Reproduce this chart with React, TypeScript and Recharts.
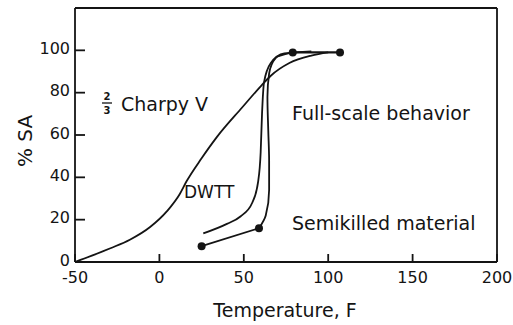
import * as React from 'react';
import { ComposedChart, Line, Scatter, XAxis, YAxis, ReferenceLine } from 'recharts';

// temperature (F) vs % shear area
const charpyV = [
  { x: -50, y: 0 }, { x: -40, y: 3 }, { x: -29, y: 6.5 }, { x: -17.5, y: 10.5 },
  { x: -5.5, y: 16.5 }, { x: 4.5, y: 24 }, { x: 12, y: 32 }, { x: 16, y: 38 },
  { x: 25, y: 49 }, { x: 34, y: 59 }, { x: 49, y: 73 }, { x: 60, y: 83 },
  { x: 66, y: 88 }, { x: 77, y: 94 }, { x: 90, y: 97.5 }, { x: 100, y: 99 },
];
const dwtt = [
  { x: 26, y: 13.5 }, { x: 40, y: 18 }, { x: 48, y: 21.5 }, { x: 55, y: 28 },
  { x: 58.5, y: 38 }, { x: 60, y: 52 }, { x: 60.8, y: 70 }, { x: 62, y: 85 },
  { x: 66, y: 94 }, { x: 74, y: 98.5 }, { x: 90, y: 99.5 },
];
const semiLow = [{ x: 25, y: 7.5 }, { x: 59, y: 16 }];
const semiRise = [
  { x: 59, y: 16 }, { x: 63, y: 22 }, { x: 65, y: 34 }, { x: 65, y: 48 },
  { x: 64.5, y: 62 }, { x: 64, y: 78 }, { x: 65, y: 89 }, { x: 69, y: 96.5 }, { x: 79, y: 99 },
];
const semiTop = [{ x: 79, y: 99 }, { x: 107, y: 99 }];
const semiDots = [{ x: 25, y: 7.5 }, { x: 59, y: 16 }, { x: 79, y: 99 }, { x: 107, y: 99 }];

const xTicks = [-50, 0, 50, 100, 150, 200];
const yTicks = [0, 20, 40, 60, 80, 100];

const ink = '#141414';
const font = 'DejaVu Sans';
const sw = 1.8;

const XTick = (props: any) => {
  const { x, y, payload } = props;
  return (
    <g>
      <line x1={x} x2={x} y1={y} y2={y - 8} stroke={ink} strokeWidth={sw} />
      <text x={x} y={y + 21} textAnchor="middle" fontSize={16} fontFamily={font} fill={ink}>{payload.value}</text>
    </g>
  );
};

const YTick = (props: any) => {
  const { x, y, payload } = props;
  return (
    <g>
      <line x1={x} x2={x + 10} y1={y} y2={y} stroke={ink} strokeWidth={sw} />
      <text x={x - 5} y={y - 2} dy="0.36em" textAnchor="end" fontSize={16} fontFamily={font} fill={ink}>{payload.value}</text>
    </g>
  );
};

const dotShape = (p: any) => <circle cx={p.cx} cy={p.cy} r={4} fill={ink} />;

export default function App() {
  return (
    <div style={{ position: 'absolute', left: 0, top: 0, width: 513, height: 325, background: '#fff' }}>
      <ComposedChart width={513} height={325} margin={{ top: 8, right: 16, bottom: 0, left: 0 }}>
        <XAxis
          type="number" dataKey="x" domain={[-50, 200]} ticks={xTicks} allowDataOverflow
          height={63} tickSize={0} tickMargin={0} tickLine={false}
          axisLine={{ stroke: ink, strokeWidth: sw }} tick={<XTick />}
        />
        <YAxis
          type="number" dataKey="y" domain={[0, 120]} ticks={yTicks} allowDataOverflow
          width={75} tickSize={0} tickMargin={0} tickLine={false}
          axisLine={{ stroke: ink, strokeWidth: sw }} tick={<YTick />}
        />
        <ReferenceLine y={120} stroke={ink} strokeWidth={sw} />
        <ReferenceLine x={200} stroke={ink} strokeWidth={sw} />
        <Line data={charpyV} dataKey="y" type="monotone" stroke={ink} strokeWidth={sw} dot={false} activeDot={false} isAnimationActive={false} />
        <Line data={dwtt} dataKey="y" type="monotone" stroke={ink} strokeWidth={sw} dot={false} activeDot={false} isAnimationActive={false} />
        <Line data={semiLow} dataKey="y" type="linear" stroke={ink} strokeWidth={sw} dot={false} activeDot={false} isAnimationActive={false} />
        <Line data={semiRise} dataKey="y" type="monotoneY" stroke={ink} strokeWidth={sw} dot={false} activeDot={false} isAnimationActive={false} />
        <Line data={semiTop} dataKey="y" type="linear" stroke={ink} strokeWidth={2.2} dot={false} activeDot={false} isAnimationActive={false} />
        <Scatter data={semiDots} dataKey="y" shape={dotShape} isAnimationActive={false} />

        <text x={25} y={141} transform="rotate(-90 25 141)" textAnchor="middle" dominantBaseline="central" fontSize={20} fontFamily={font} fill={ink}>% SA</text>
        <text x={285} y={310} textAnchor="middle" dominantBaseline="central" fontSize={19} fontFamily={font} fill={ink}>Temperature, F</text>
        <text x={107} y={96} textAnchor="middle" dominantBaseline="central" fontSize={10} fontWeight="bold" fontFamily={font} fill={ink}>2</text>
        <line x1={102} x2={112} y1={103} y2={103} stroke={ink} strokeWidth={1.3} />
        <text x={107} y={110} textAnchor="middle" dominantBaseline="central" fontSize={10} fontWeight="bold" fontFamily={font} fill={ink}>3</text>
        <text x={121} y={104} dominantBaseline="central" fontSize={19} fontFamily={font} fill={ink}>Charpy V</text>
        <text x={184} y={192} dominantBaseline="central" fontSize={17} fontFamily={font} fill={ink}>DWTT</text>
        <text x={292} y={113} dominantBaseline="central" fontSize={19} fontFamily={font} fill={ink}>Full-scale behavior</text>
        <text x={292} y={223} dominantBaseline="central" fontSize={19} fontFamily={font} fill={ink}>Semikilled material</text>
      </ComposedChart>
    </div>
  );
}
